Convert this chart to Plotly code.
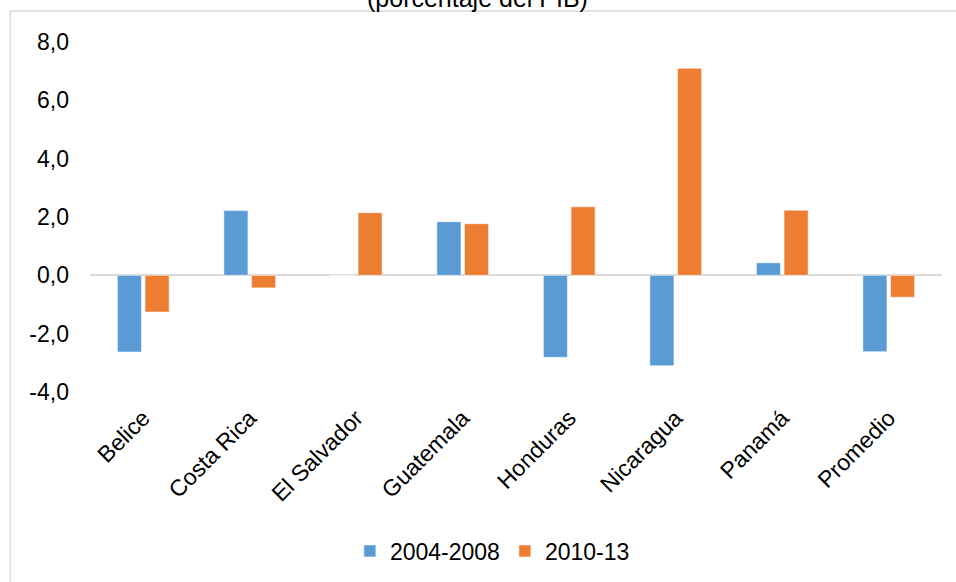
import plotly.graph_objects as go

categories = ["Belice", "Costa Rica", "El Salvador", "Guatemala", "Honduras", "Nicaragua", "Panamá", "Promedio"]
series_names = ["2004-2008", "2010-13"]
values_2004_2008 = [-2.63, 2.22, 0.0, 1.84, -2.81, -3.10, 0.43, -2.62]
values_2010_13 = [-1.26, -0.43, 2.15, 1.77, 2.35, 7.10, 2.23, -0.75]
y_ticks = [-4, -2, 0, 2, 4, 6, 8]
title_text = "(porcentaje del PIB)"

FONT = "Liberation Sans, Arial, sans-serif"
FS = 23
W, H = 956, 582
L, R, T, B = 90.3, 941.7, 42, 392
pw, ph = R - L, B - T

def px_x(x):
    return (x - L) / pw

def px_y(y):
    return (B - y) / ph

y_ticktext = [f"{v:.1f}".replace(".", ",") for v in y_ticks]

fig = go.Figure()
fig.add_trace(go.Bar(x=categories, y=values_2004_2008, name=series_names[0],
                     marker=dict(color="#5B9BD5", line=dict(color="rgba(255,255,255,0.55)", width=1))))
fig.add_trace(go.Bar(x=categories, y=values_2010_13, name=series_names[1],
                     marker=dict(color="#ED7D31", line=dict(color="rgba(255,255,255,0.55)", width=1))))

fig.update_layout(
    width=W, height=H,
    margin=dict(l=L, r=W - R, t=T, b=H - B, autoexpand=False),
    paper_bgcolor="white", plot_bgcolor="white",
    barmode="group", bargap=0.48, bargroupgap=0.13,
    font=dict(family=FONT, size=FS, color="#000000"),
    showlegend=True,
    legend=dict(orientation="h", x=px_x(350), xanchor="left", y=px_y(551), yanchor="middle",
                font=dict(family=FONT, size=FS, color="#000000"), itemwidth=30,
                bgcolor="rgba(0,0,0,0)", traceorder="normal"),
)
fig.update_xaxes(showgrid=False, showline=False, ticks="", tickangle=-45,
                 tickfont=dict(family=FONT, size=FS, color="#000000"), ticklabelstandoff=7,
                 fixedrange=True)
fig.update_yaxes(range=[-4, 8], tickvals=y_ticks, ticktext=y_ticktext, showgrid=False,
                 zeroline=True, zerolinecolor="#D9D9D9", zerolinewidth=1.5,
                 showline=False, ticks="", ticklabelstandoff=20,
                 tickfont=dict(family=FONT, size=FS, color="#000000"), fixedrange=True)

# Chart area border (cropped)
fig.add_shape(type="rect", xref="paper", yref="paper",
              x0=px_x(10.5), x1=px_x(W + 10), y0=px_y(11), y1=px_y(H + 10),
              line=dict(color="#D9D9D9", width=1.3), layer="below")

fig.add_annotation(text=title_text, xref="paper", yref="paper",
                   x=px_x(478), y=px_y(14), xanchor="center", yanchor="bottom",
                   showarrow=False, font=dict(family=FONT, size=25, color="#000000"))

fig.write_html("out.html")
